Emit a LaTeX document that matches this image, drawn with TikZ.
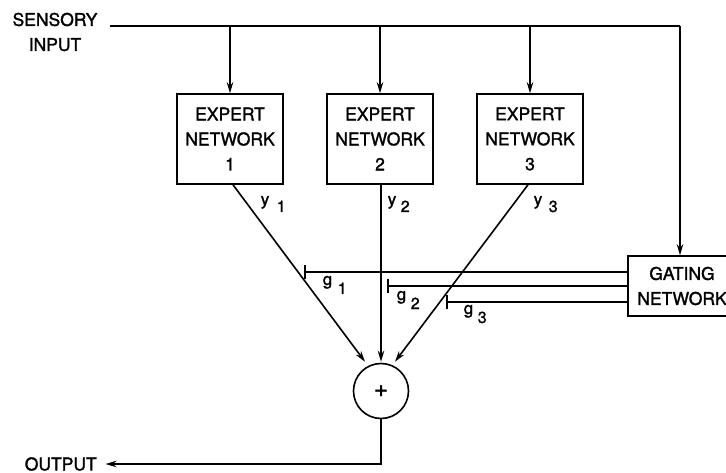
\documentclass[tikz,border=0pt]{standalone}
\usepackage{fontspec}
\setmainfont{TeX Gyre Heros}[FakeBold=1.5]
\newfontfamily\heavy{TeX Gyre Heros}[FakeBold=1.5]
\usetikzlibrary{calc,arrows.meta}
\begin{document}
\begin{tikzpicture}[x=1pt,y=-1pt,
  line width=1.6pt,
  every node/.style={font=\heavy\fontsize{17.5}{25}\selectfont},
  box/.style={draw,align=center,inner sep=0pt},
  expert/.style={box,minimum width=106pt,minimum height=90pt},
  arr/.style={-{Stealth[length=11pt,width=6.5pt]}},
  lbl/.style={inner sep=0pt,anchor=base west,font=\heavy\fontsize{17}{20}\selectfont},
  sub/.style={inner sep=0pt,anchor=base west,font=\heavy\fontsize{16}{20}\selectfont}]
\useasboundingbox (0,0) rectangle (726,473);
\clip (0,0) rectangle (726,473);

% labels on the left
\node[align=center] (sens) at (55,32) {SENSORY\\INPUT};
\node[anchor=west,inner sep=0pt] (out) at (24,464) {OUTPUT};

% expert networks
\node[expert] (e1) at (230,139) {EXPERT\\NETWORK\\1};
\node[expert] (e2) at (380,139) {EXPERT\\NETWORK\\2};
\node[expert] (e3) at (530,139) {EXPERT\\NETWORK\\3};

% gating network (runs past the right edge)
\node[box,minimum width=116pt,minimum height=60pt] (gate) at (686,286) {\hspace*{-8pt}GATING\\NETWORK\hspace*{8pt}};

% summing junction
\node[draw,circle,minimum size=55pt,inner sep=0pt,font=\heavy\fontsize{24}{24}\selectfont] (sum) at (381,391) {+};

% sensory input bus
\coordinate (busL) at (110,26);
\coordinate (busR) at (680,26);
\draw (busL) -- (busR);
\draw[arr] (busR) -- (busR |- gate.north);
\foreach \e in {e1,e2,e3}
  \draw[arr] (\e.north |- busL) -- (\e.north);

% expert outputs into the sum
\coordinate (t1) at ($(sum.north)+(-16,-1)$);
\coordinate (t3) at ($(sum.north)+(14,-1)$);
\draw[arr] ($(e1.south)+(3,0)$) -- (t1);
\draw[arr] (e2.south -| sum.north) -- ($(sum.north)+(0,-1)$);
\draw[arr] ($(e3.south)+(-2,0)$) -- (t3);

% gating signals with their end ticks
\coordinate (g1) at (305,272);
\coordinate (g2) at (388,286);
\coordinate (g3) at (447,302);
\foreach \g in {g1,g2,g3}{
  \draw (gate.west |- \g) -- (\g);
  \draw ($(\g)+(0,-7)$) -- ($(\g)+(0,7)$);
}

% output
\coordinate (corner) at (sum.south |- out);
\draw[arr] (sum.south) -- (corner) -- ($(out.east)+(8,0)$);

% signal labels: letter, then a lowered index
\node[lbl] (ly1) at (260,205) {y};  \node[sub] (ly1i) at (276,212) {1};
\node[lbl] (ly2) at (387,205) {y};  \node[sub] (ly2i) at (400,212) {2};
\node[lbl] (ly3) at (533,205) {y};  \node[sub] (ly3i) at (548,212) {3};
\node[lbl] (lg1) at (322,285) {g};  \node[sub] (lg1i) at (337,294) {1};
\node[lbl] (lg2) at (396,300) {g};  \node[sub] (lg2i) at (410,309) {2};
\node[lbl] (lg3) at (463,314) {g};  \node[sub] (lg3i) at (477,323) {3};
\end{tikzpicture}
\end{document}
